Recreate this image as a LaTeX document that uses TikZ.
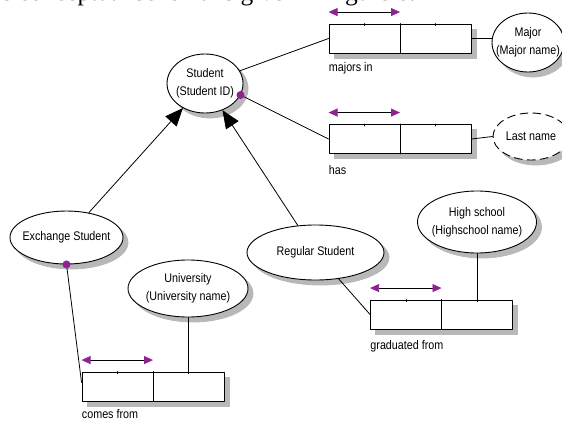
\documentclass[tikz,border=0pt]{standalone}
\usepackage{fontspec}
\newfontfamily\diagfont{Liberation Sans}[FakeStretch=0.86]
\newfontfamily\headfont{Liberation Serif}
\usetikzlibrary{arrows.meta}
\usetikzlibrary{shapes.geometric}
\definecolor{tippurple}{rgb}{0.56, 0.13, 0.58}
\definecolor{shadowgray}{rgb}{0.72, 0.72, 0.72}
\tikzset{
  entity/.style={ellipse, draw, line width=0.9pt, fill=white, inner sep=-30pt, align=center},
  entityshadow/.style={ellipse, draw=shadowgray, fill=shadowgray, inner sep=0pt},
  relbox/.style={rectangle, draw, line width=0.9pt, fill=white, inner sep=0pt,
    minimum width=142pt, minimum height=29pt},
  relboxshadow/.style={rectangle, draw=shadowgray, fill=shadowgray, inner sep=0pt,
    minimum width=142pt, minimum height=29pt},
  rolelabel/.style={anchor=west, inner sep=0pt},
  uniq/.style={{Triangle[length=9pt,width=8pt,color=tippurple]}-{Triangle[length=9pt,width=8pt,color=tippurple]}},
  isa/.style={-{Triangle[length=18pt,width=15pt]}},
}
% name, x, y, width, height, options, text
\newcommand{\entitynode}[7]{
  \node[entityshadow, minimum width=#4pt, minimum height=#5pt] at (#2+5,#3+5) {};
  \node[entity, minimum width=#4pt, minimum height=#5pt, #6] (#1) at (#2,#3) {#7};
}
% name, x, y
\newcommand{\relnode}[3]{
  \node[relboxshadow] at (#2+5,#3+5) {};
  \node[relbox] (#1) at (#2,#3) {};
  \draw (#1.north) -- (#1.south);
  \draw ([xshift=-35.5pt]#1.north) -- ++(0,2);
  \draw ([xshift=35.5pt]#1.north) -- ++(0,2);
  \draw[uniq] ([yshift=11.5pt]#1.north west) -- ([yshift=11.5pt]#1.north);
}

\begin{document}
\begin{tikzpicture}[x=1pt,y=-1pt,line cap=round,line join=round,line width=0.8pt,
  font=\diagfont\fontsize{12.5}{18}\selectfont]
\useasboundingbox (0,0) rectangle (562,421);
\clip (0,0) rectangle (562,421);
% heading line of the page, cut at the top
\node[font=\headfont\fontsize{25.4}{30}\selectfont, anchor=base east, inner sep=0pt] (heading) at (416,0.5) {this conceptual schema is given in figure 6.};
% entities
\entitynode{student}{205}{83.5}{76}{59}{}{Student\\(Student ID)}
\entitynode{major}{528}{42.5}{72}{59}{}{Major\\(Major name)}
\entitynode{lastname}{531}{136.5}{76}{47}{dash pattern=on 8pt off 5pt}{Last name}
\entitynode{exchange}{66.5}{237.5}{113}{53}{}{Exchange Student}
\entitynode{regular}{315.5}{252.5}{137}{55}{}{Regular Student}
\entitynode{highschool}{477}{222}{119}{62}{}{High school\\(Highschool name)}
\entitynode{university}{188}{288.5}{120}{57}{}{University\\(University name)}
% relationship boxes
\relnode{majorsin}{400}{38.5}
\relnode{has}{400}{139}
\relnode{comesfrom}{153}{386.5}
\relnode{graduated}{441.5}{314.5}
\node[rolelabel] (majorsinlbl) at ([yshift=-15pt]majorsin.south west) {majors in};
\node[rolelabel] (haslbl) at ([yshift=-16pt]has.south west) {has};
\node[rolelabel] (comesfromlbl) at ([yshift=-13pt]comesfrom.south west) {comes from};
\node[rolelabel] (graduatedlbl) at ([yshift=-17pt]graduated.south west) {graduated from};
% connectors
\draw (student) -- (majorsin.west);
\draw (majorsin.east) -- (majorsin.east -| major.west);
\draw (student.-18) -- (has.west);
\draw (has.east) -- (lastname.west);
\draw[isa] (exchange) -- (student);
\draw[isa] (regular) -- (student);
\draw (exchange.south) -- ([yshift=4pt]comesfrom.west);
\draw (university) -- (university |- comesfrom.north);
\draw (regular) -- (graduated.west);
\draw (highschool) -- (highschool |- graduated.north);
\fill[tippurple] (student.-18) circle (4pt);
\fill[tippurple] (exchange.south) circle (4pt);
\end{tikzpicture}
\end{document}
